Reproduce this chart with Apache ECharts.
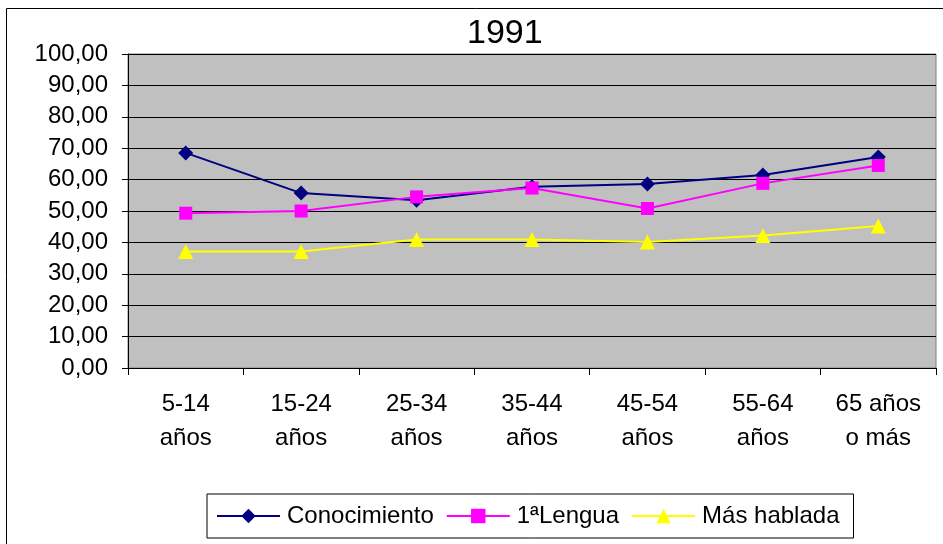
<!DOCTYPE html>
<html><head><meta charset="utf-8">
<script src="https://cdn.jsdelivr.net/npm/echarts@6/dist/echarts.min.js"></script>
<style>html,body{margin:0;padding:0;background:#fff}#c{width:943px;height:544px}</style>
</head><body><div id="c"></div>
<script>
const categories = ["5-14\naños","15-24\naños","25-34\naños","35-44\naños","45-54\naños","55-64\naños","65 años\no más"];
const conocimiento = [68.5, 55.7, 53.4, 57.7, 58.6, 61.5, 67.2];
const lengua1 = [49.3, 50.0, 54.5, 57.3, 50.8, 58.8, 64.5];
const masHablada = [37.1, 37.1, 40.9, 40.9, 40.1, 42.2, 45.2];
const yTicks = [0,10,20,30,40,50,60,70,80,90,100];

const chart = echarts.init(document.getElementById('c'));
const font = 'Liberation Sans, Arial, sans-serif';
chart.setOption({
  animation: false,
  backgroundColor: '#fff',
  title: { text: '1991', left: 462, top: 12, textStyle: { fontFamily: font, fontSize: 34, fontWeight: 'normal', color: '#000' } },
  graphic: [{ type: 'rect', shape: { x: 6.5, y: 8.5, width: 1000, height: 600 }, style: { fill: 'none', stroke: '#000', lineWidth: 1 }, silent: true }],
  grid: { left: 128, right: 7, top: 54, bottom: 176, show: true, backgroundColor: '#C0C0C0', borderColor: '#808080', borderWidth: 1 },
  legend: {
    bottom: 6, left: 207, itemGap: 12, itemWidth: 63, itemHeight: 18,
    padding: [10, 14, 10, 9],
    borderColor: '#000', borderWidth: 1, borderRadius: 0,
    textStyle: { fontFamily: font, fontSize: 24, color: '#000', padding: [0, 0, 0, 2] },
    data: ['Conocimiento', '1ªLengua', 'Más hablada']
  },
  xAxis: {
    type: 'category', data: categories, boundaryGap: true,
    axisLine: { lineStyle: { color: '#000' } },
    axisTick: { show: true, length: 7, lineStyle: { color: '#000' } },
    axisLabel: { fontFamily: font, fontSize: 24, color: '#000', lineHeight: 34, margin: 19 }
  },
  yAxis: {
    type: 'value', min: 0, max: 100, interval: 10,
    axisLine: { show: true, lineStyle: { color: '#000' } },
    axisTick: { show: true, length: 6, lineStyle: { color: '#000' } },
    splitLine: { lineStyle: { color: '#000', width: 1 } },
    axisLabel: { fontFamily: font, fontSize: 24, color: '#000', margin: 20,
      formatter: v => yTicks.includes(v) ? v.toFixed(2).replace('.', ',') : '' }
  },
  series: [
    { name: 'Conocimiento', type: 'line', data: conocimiento, symbol: 'diamond', symbolSize: 15,
      lineStyle: { color: '#000080', width: 2 }, itemStyle: { color: '#000080' } },
    { name: '1ªLengua', type: 'line', data: lengua1, symbol: 'rect', symbolSize: 13,
      lineStyle: { color: '#FF00FF', width: 2 }, itemStyle: { color: '#FF00FF' } },
    { name: 'Más hablada', type: 'line', data: masHablada, symbol: 'triangle', symbolSize: 15,
      lineStyle: { color: '#FFFF00', width: 2 }, itemStyle: { color: '#FFFF00' } }
  ]
});
</script></body></html>
